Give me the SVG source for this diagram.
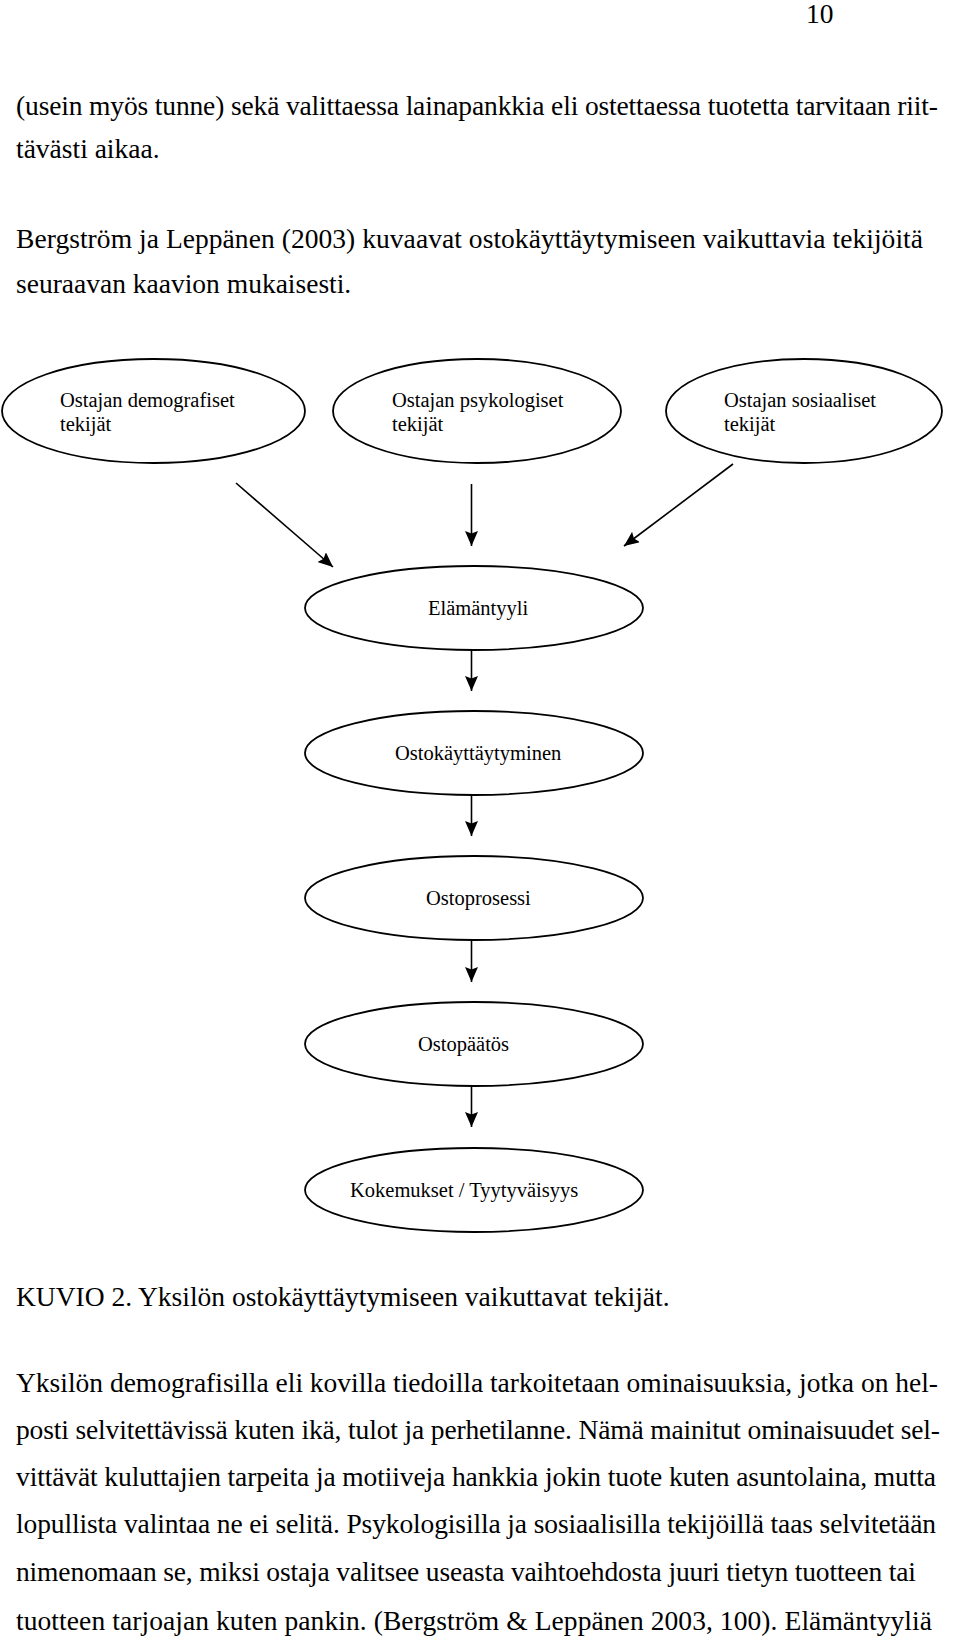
<svg xmlns="http://www.w3.org/2000/svg" width="960" height="1641" viewBox="0 0 960 1641">
<style>
.body{font-family:"Liberation Serif","Times New Roman",serif;font-size:27.5px;fill:#000}
.lbl{font-family:"Liberation Serif","Times New Roman",serif;font-size:20.5px;fill:#000}
.node{fill:#fff;stroke:#000;stroke-width:1.8}
.conn{stroke:#000;stroke-width:1.6;fill:none;marker-end:url(#ah)}
</style>
<defs>
<marker id="ah" viewBox="0 0 15 13" refX="15" refY="6.5" markerWidth="15" markerHeight="13" markerUnits="userSpaceOnUse" orient="auto">
<path d="M0,0 L15,6.5 L0,13 L2.5,6.5 z" fill="#000"/>
</marker>
</defs>
<rect width="960" height="1641" fill="#fff"/>

<g id="page-text">
<text class="body" x="806" y="23">10</text>
<text class="body" x="16" y="115" textLength="922" lengthAdjust="spacing">(usein myös tunne) sekä valittaessa lainapankkia eli ostettaessa tuotetta tarvitaan riit-</text>
<text class="body" x="16" y="158">tävästi aikaa.</text>
<text class="body" x="16" y="248" textLength="907" lengthAdjust="spacing">Bergström ja Leppänen (2003) kuvaavat ostokäyttäytymiseen vaikuttavia tekijöitä</text>
<text class="body" x="16" y="293">seuraavan kaavion mukaisesti.</text>
</g>

<g id="n-demografiset">
<ellipse class="node" cx="153.5" cy="411" rx="151.5" ry="52"/>
<text class="lbl" x="60" y="407">Ostajan demografiset</text>
<text class="lbl" x="60" y="431">tekijät</text>
</g>
<g id="n-psykologiset">
<ellipse class="node" cx="477" cy="411" rx="144" ry="52"/>
<text class="lbl" x="392" y="407">Ostajan psykologiset</text>
<text class="lbl" x="392" y="431">tekijät</text>
</g>
<g id="n-sosiaaliset">
<ellipse class="node" cx="804" cy="411" rx="138" ry="52"/>
<text class="lbl" x="724" y="407">Ostajan sosiaaliset</text>
<text class="lbl" x="724" y="431">tekijät</text>
</g>
<g id="n-elamantyyli">
<ellipse class="node" cx="474" cy="608" rx="169" ry="42"/>
<text class="lbl" x="428" y="615">Elämäntyyli</text>
</g>
<g id="n-ostokayttaytyminen">
<ellipse class="node" cx="474" cy="753" rx="169" ry="42"/>
<text class="lbl" x="395" y="760">Ostokäyttäytyminen</text>
</g>
<g id="n-ostoprosessi">
<ellipse class="node" cx="474" cy="898" rx="169" ry="42"/>
<text class="lbl" x="426" y="905">Ostoprosessi</text>
</g>
<g id="n-ostopaatos">
<ellipse class="node" cx="474" cy="1044" rx="169" ry="42"/>
<text class="lbl" x="418" y="1051">Ostopäätös</text>
</g>
<g id="n-kokemukset">
<ellipse class="node" cx="474" cy="1190" rx="169" ry="42"/>
<text class="lbl" x="350" y="1197">Kokemukset / Tyytyväisyys</text>
</g>

<g id="connectors">
<line class="conn" x1="236" y1="483" x2="333" y2="567"/>
<line class="conn" x1="471.5" y1="484" x2="471.5" y2="546"/>
<line class="conn" x1="733" y1="464" x2="624" y2="546"/>
<line class="conn" x1="471.5" y1="650" x2="471.5" y2="691"/>
<line class="conn" x1="471.5" y1="795" x2="471.5" y2="836"/>
<line class="conn" x1="471.5" y1="940" x2="471.5" y2="982"/>
<line class="conn" x1="471.5" y1="1086" x2="471.5" y2="1127"/>
</g>

<g id="caption-and-body">
<text class="body" x="16" y="1306">KUVIO 2. Yksilön ostokäyttäytymiseen vaikuttavat tekijät.</text>
<text class="body" x="16" y="1392" textLength="922" lengthAdjust="spacing">Yksilön demografisilla eli kovilla tiedoilla tarkoitetaan ominaisuuksia, jotka on hel-</text>
<text class="body" x="16" y="1439" textLength="924" lengthAdjust="spacing">posti selvitettävissä kuten ikä, tulot ja perhetilanne. Nämä mainitut ominaisuudet sel-</text>
<text class="body" x="16" y="1486" textLength="920" lengthAdjust="spacing">vittävät kuluttajien tarpeita ja motiiveja hankkia jokin tuote kuten asuntolaina, mutta</text>
<text class="body" x="16" y="1533" textLength="920" lengthAdjust="spacing">lopullista valintaa ne ei selitä. Psykologisilla ja sosiaalisilla tekijöillä taas selvitetään</text>
<text class="body" x="16" y="1581" textLength="900" lengthAdjust="spacing">nimenomaan se, miksi ostaja valitsee useasta vaihtoehdosta juuri tietyn tuotteen tai</text>
<text class="body" x="16" y="1630" textLength="916" lengthAdjust="spacing">tuotteen tarjoajan kuten pankin. (Bergström &amp; Leppänen 2003, 100). Elämäntyyliä</text>
</g>
</svg>
